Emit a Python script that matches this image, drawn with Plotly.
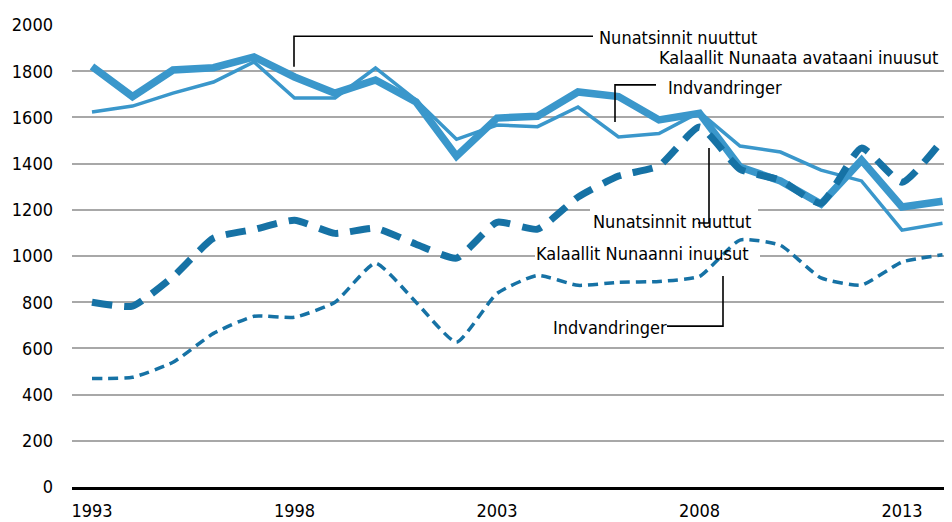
import plotly.graph_objects as go

years = list(range(1993, 2015))

# Thick solid (upper group, top label)
total_thick = [1820, 1690, 1805, 1815, 1862, 1775, 1705, 1762, 1667, 1432, 1597, 1605, 1710, 1690, 1589, 1618,
               1385, 1325, 1225, 1415, 1212, 1237]
# Thin solid
total_thin = [1623, 1649, 1705, 1753, 1840, 1684, 1684, 1814, 1675, 1505, 1567, 1560, 1645, 1515, 1530, 1623,
              1476, 1450, 1372, 1325, 1112, 1142]
# Thick dashed
born_gl_thick = [800, 783, 910, 1077, 1115, 1155, 1098, 1120, 1051, 991, 1146, 1116, 1255, 1346, 1390, 1558,
                 1376, 1328, 1228, 1467, 1319, 1502]
# Thin dashed
born_gl_thin = [470, 475, 540, 665, 739, 735, 800, 969, 800, 627, 838, 916, 873, 886, 890, 912,
                1069, 1046, 905, 874, 974, 1005]

x_ticks = [1993, 1998, 2003, 2008, 2013]
y_ticks = list(range(0, 2001, 200))

LIGHT = "#3a97cb"
DARK = "#1672a5"
FONT = "DejaVu Sans Condensed, sans-serif"
FS = 18

# page has an 8px body margin: compensate so the figure lines up with the window
PAGE_OFF = 8
W, H = 952, 522
# pixel helpers in window coordinates (layout positioning only)
L, R_EDGE, TOP, BOT = 72, 952, 25.2, 486.7
PX_PER_YEAR = 40.5
X0 = 1993 - (92 - L) / PX_PER_YEAR
X1 = 1993 + (R_EDGE - 92) / PX_PER_YEAR
def px(xp):
    return X0 + (xp - L) / PX_PER_YEAR
def py(yp):
    return (BOT - yp) * 2000 / (BOT - TOP)

fig = go.Figure()
fig.add_trace(go.Scatter(x=years, y=total_thin, mode="lines",
                         line=dict(color=LIGHT, width=3.5), showlegend=False))
fig.add_trace(go.Scatter(x=years, y=total_thick, mode="lines",
                         line=dict(color=LIGHT, width=7.5), showlegend=False))
fig.add_trace(go.Scatter(x=years, y=born_gl_thin, mode="lines",
                         line=dict(color=DARK, width=3.5, dash="10px,6px", shape="spline", smoothing=0.5),
                         showlegend=False))
fig.add_trace(go.Scatter(x=years, y=born_gl_thick, mode="lines",
                         line=dict(color=DARK, width=7, dash="20px,12px", shape="spline", smoothing=0.5),
                         showlegend=False))

shapes = []
# white breaks in gridlines behind labels
for (xa, xb, yc) in [(598, 767, 25.2), (590, 758, 209.8), (535, 760, 256.0)]:
    shapes.append(dict(type="rect", xref="x", yref="y", layer="between",
                       x0=px(xa), x1=px(xb), y0=py(yc + 3), y1=py(yc - 3),
                       fillcolor="white", line=dict(width=0)))
# leader lines
def path(points):
    d = "M " + " L ".join(f"{px(a)},{py(b)}" for a, b in points)
    return dict(type="path", xref="x", yref="y", path=d, layer="above",
                line=dict(color="black", width=1.6))
shapes.append(path([(294, 67), (294, 36.5), (593, 36.5)]))
shapes.append(path([(615, 122), (615, 85), (656, 85)]))
shapes.append(path([(709, 148), (709, 223), (698, 223)]))
shapes.append(path([(667, 326), (723, 326), (723, 276)]))

annotations = []
def label(text, xl, yc):
    annotations.append(dict(text=text, x=px(xl), y=py(yc), xref="x", yref="y",
                            xanchor="left", yanchor="middle", showarrow=False,
                            font=dict(family=FONT, size=FS, color="black")))
label("Nunatsinnit nuuttut", 597, 38)
label("Kalaallit Nunaata avataani inuusut", 657, 58)
label("Indvandringer", 666, 88)
label("Nunatsinnit nuuttut", 591, 221)
label("Kalaallit Nunaanni inuusut", 534, 253)
label("Indvandringer", 551, 327)

fig.update_layout(
    width=W - PAGE_OFF, height=H - PAGE_OFF,
    margin=dict(l=L - PAGE_OFF, r=0, t=TOP - PAGE_OFF, b=H - BOT),
    paper_bgcolor="white", plot_bgcolor="white",
    font=dict(family=FONT, size=FS, color="black"),
    shapes=shapes, annotations=annotations,
    xaxis=dict(range=[X0, X1], tickvals=x_ticks, ticktext=[str(v) for v in x_ticks],
               showgrid=False, zeroline=False, showline=True, linecolor="black", linewidth=2.5,
               ticks="", ticklabelstandoff=6, automargin=False, tickfont=dict(family=FONT, size=FS)),
    yaxis=dict(range=[0, 2000], tickvals=y_ticks, showgrid=True, gridcolor="#a8a8a8", gridwidth=1.6,
               zeroline=False, showline=False, ticks="", ticklabelstandoff=18, automargin=False,
               tickfont=dict(family=FONT, size=FS)),
)
fig.write_html("out.html")
